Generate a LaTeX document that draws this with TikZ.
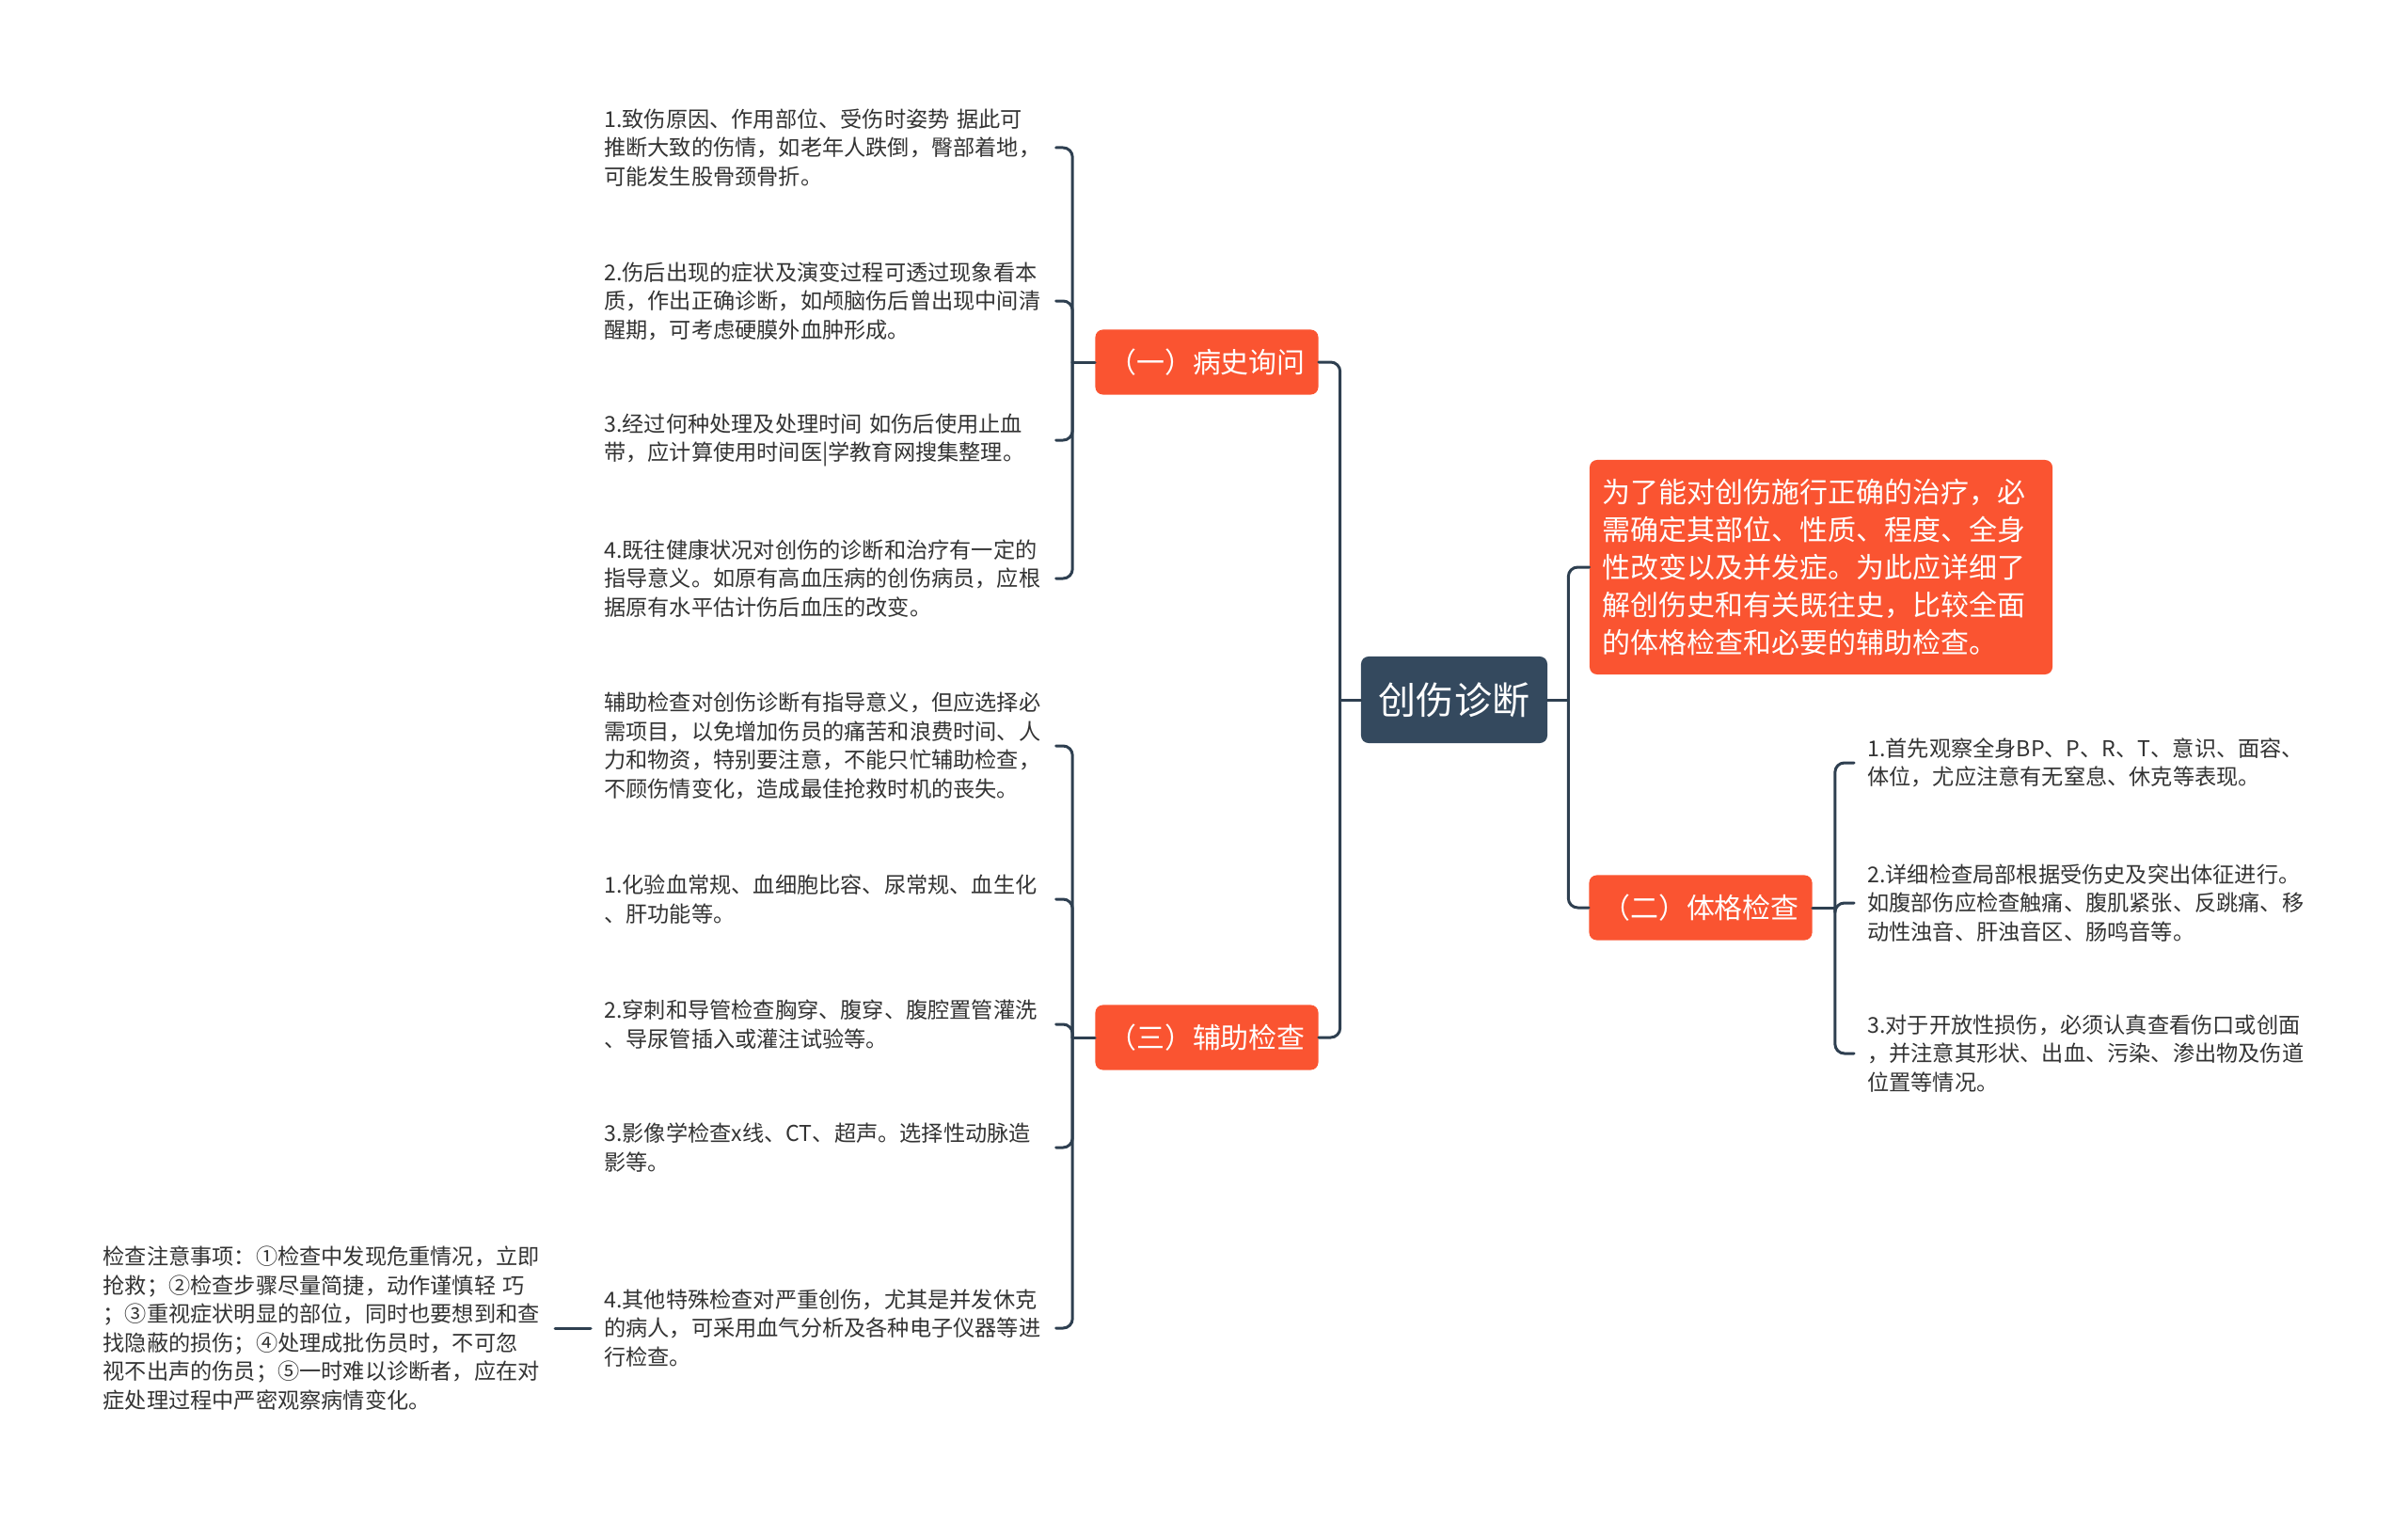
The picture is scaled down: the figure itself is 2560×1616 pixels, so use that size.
\documentclass[tikz,border=0pt]{standalone}
\usepackage{fontspec}
\setmainfont{Noto Sans CJK SC}
\usepackage{pgf,tikz}
\usetikzlibrary{arrows}
\usetikzlibrary{positioning}
\definecolor{rootfill}{HTML}{34495E}
\definecolor{branchfill}{HTML}{FA5431}
\definecolor{linkcol}{HTML}{2E3F50}
\definecolor{leaftext}{HTML}{333333}
\tikzset{
rootbox/.style={rectangle,rounded corners=0.2cm,fill=rootfill,text=white,font=\fontsize{28.5pt}{34pt}\selectfont,minimum width=4.95cm,minimum height=2.3cm,inner sep=0pt},
branchbox/.style={rectangle,rounded corners=0.2cm,fill=branchfill,text=white,font=\fontsize{21.3pt}{27.4pt}\selectfont,minimum width=5.925cm,minimum height=1.725cm,inner sep=0pt},
introbox/.style={branchbox,font=\fontsize{21.3pt}{28.3pt}\selectfont,align=left,text width=11.6cm,inner xsep=0.35cm,minimum height=5.7cm},
leaf/.style={text=leaftext,font=\fontsize{16.5pt}{21.7pt}\selectfont,align=left,text width=11.65cm,inner xsep=0.35cm,inner ysep=0.1cm},
link/.style={draw=linkcol,line width=0.075cm,rounded corners=0.25cm}
}
\begin{document}
\begin{tikzpicture}[line cap=round,line join=round,x=0.025cm,y=-0.025cm]
\useasboundingbox (0,0) rectangle (2560,1616);
\node[rootbox] (root) at (1546,744) {创伤诊断};
\node[branchbox] (hist) at (1283,385) {（一）病史询问};
\node[branchbox] (aux) at (1283,1103) {（三）辅助检查};
\node[introbox] (intro) at (1936,603) {为了能对创伤施行正确的治疗，必\\需确定其部位、性质、程度、全身\\性改变以及并发症。为此应详细了\\解创伤史和有关既往史，比较全面\\的体格检查和必要的辅助检查。};
\node[branchbox] (exam) at (1808,965) {（二）体格检查};
\coordinate (rootL) at ([xshift=-0.55cm]root.west);
\coordinate (rootR) at ([xshift=0.55cm]root.east);
\coordinate (histJ) at ([xshift=-0.6cm]hist.west);
\coordinate (auxJ) at ([xshift=-0.6cm]aux.west);
\coordinate (examJ) at ([xshift=0.6cm]exam.east);
% 病史询问
\node[leaf,anchor=west] (a1) at (628,157) {1.致伤原因、作用部位、受伤时姿势 据此可\\推断大致的伤情，如老年人跌倒，臀部着地，\\可能发生股骨颈骨折。};
\node[leaf,anchor=west] (a2) at (628,320) {2.伤后出现的症状及演变过程可透过现象看本\\质，作出正确诊断，如颅脑伤后曾出现中间清\\醒期，可考虑硬膜外血肿形成。};
\node[leaf,anchor=west] (a3) at (628,468) {3.经过何种处理及处理时间 如伤后使用止血\\带，应计算使用时间医|学教育网搜集整理。};
\node[leaf,anchor=west] (a4) at (628,615) {4.既往健康状况对创伤的诊断和治疗有一定的\\指导意义。如原有高血压病的创伤病员，应根\\据原有水平估计伤后血压的改变。};
% 辅助检查
\node[leaf,anchor=west] (b0) at (628,793) {辅助检查对创伤诊断有指导意义，但应选择必\\需项目，以免增加伤员的痛苦和浪费时间、人\\力和物资，特别要注意，不能只忙辅助检查，\\不顾伤情变化，造成最佳抢救时机的丧失。};
\node[leaf,anchor=west] (b1) at (628,956) {1.化验血常规、血细胞比容、尿常规、血生化\\、肝功能等。};
\node[leaf,anchor=west] (b2) at (628,1089) {2.穿刺和导管检查胸穿、腹穿、腹腔置管灌洗\\、导尿管插入或灌注试验等。};
\node[leaf,anchor=west] (b3) at (628,1220) {3.影像学检查x线、CT、超声。选择性动脉造\\影等。};
\node[leaf,anchor=west] (b4) at (628,1412) {4.其他特殊检查对严重创伤，尤其是并发休克\\的病人，可采用血气分析及各种电子仪器等进\\行检查。};
\node[leaf,anchor=east] (note) at (590,1412) {检查注意事项：①检查中发现危重情况，立即\\抢救；②检查步骤尽量简捷，动作谨慎轻 巧\\；③重视症状明显的部位，同时也要想到和查\\找隐蔽的损伤；④处理成批伤员时，不可忽\\视不出声的伤员；⑤一时难以诊断者，应在对\\症处理过程中严密观察病情变化。};
% 体格检查
\node[leaf,anchor=west] (c1) at (1971,811) {1.首先观察全身BP、P、R、T、意识、面容、\\体位，尤应注意有无窒息、休克等表现。};
\node[leaf,anchor=west] (c2) at (1971,960) {2.详细检查局部根据受伤史及突出体征进行。\\如腹部伤应检查触痛、腹肌紧张、反跳痛、移\\动性浊音、肝浊音区、肠鸣音等。};
\node[leaf,anchor=west] (c3) at (1971,1120) {3.对于开放性损伤，必须认真查看伤口或创面\\，并注意其形状、出血、污染、渗出物及伤道\\位置等情况。};
% connectors
\draw[link] (root.west) -- (rootL);
\draw[link] (rootL) |- (hist.east);
\draw[link] (rootL) |- (aux.east);
\draw[link] (root.east) -- (rootR);
\draw[link] (rootR) |- (intro.west);
\draw[link] (rootR) |- (exam.west);
\draw[link] (hist.west) -- (histJ);
\foreach \n in {a1,a2,a3,a4}
  \draw[link] (histJ) |- (\n.east);
\draw[link] (aux.west) -- (auxJ);
\foreach \n in {b0,b1,b2,b3,b4}
  \draw[link] (auxJ) |- (\n.east);
\draw[link] (exam.east) -- (examJ);
\foreach \n in {c1,c2,c3}
  \draw[link] (examJ) |- (\n.west);
\draw[link] (note.east) -- (b4.west);
\end{tikzpicture}
\end{document}
